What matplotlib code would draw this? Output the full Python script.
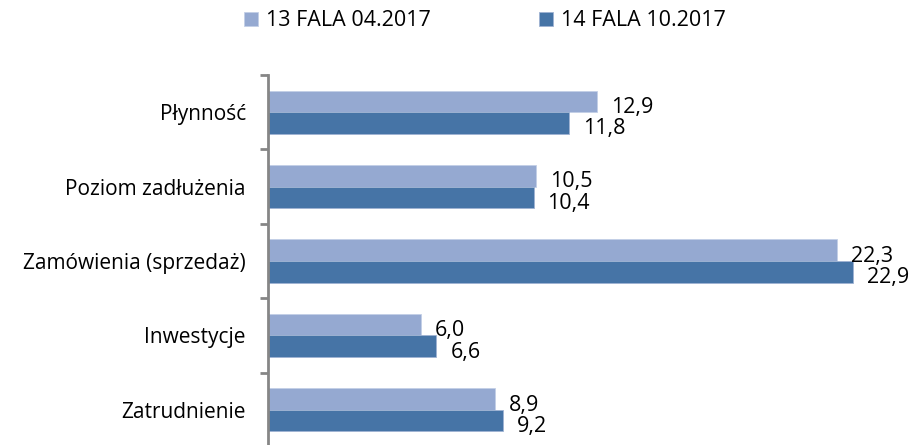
import numpy as np
import matplotlib.pyplot as plt
from matplotlib.ticker import FixedLocator

plt.rcParams['font.family'] = ['Open Sans', 'DejaVu Sans']

# data
categories = ['Płynność', 'Poziom zadłużenia', 'Zamówienia (sprzedaż)', 'Inwestycje', 'Zatrudnienie']
series_names = ['13 FALA 04.2017', '14 FALA 10.2017']
wave13 = [12.9, 10.5, 22.3, 6.0, 8.9]
wave14 = [11.8, 10.4, 22.9, 6.6, 9.2]

c_light = '#95a9d1'
c_dark = '#4674a6'
axis_grey = '#868686'

fig = plt.figure(figsize=(9.19, 4.45), dpi=100)
ax = fig.add_axes([268 / 919, -2 / 445, 1 - 268 / 919, (447 - 75) / 445])

y = np.arange(len(categories))
h = 0.29
b1 = ax.barh(y - h / 2, wave13, height=h, color=c_light, edgecolor='#c3cfe6', linewidth=0.6,
             label=series_names[0])
b2 = ax.barh(y + h / 2, wave14, height=h, color=c_dark, edgecolor='#9fb3d3', linewidth=0.6,
             label=series_names[1])

# value labels, Polish decimal comma
for bars, vals in ((b1, wave13), (b2, wave14)):
    for bar, v in zip(bars, vals):
        ax.annotate(f'{v:.1f}'.replace('.', ','),
                    (bar.get_width(), bar.get_y() + bar.get_height() / 2),
                    xytext=(14, -6), textcoords='offset pixels',
                    ha='left', va='center', fontsize=15.5, color='black', annotation_clip=False)

ax.set_xlim(0, 25.5)
ax.set_ylim(len(categories) - 0.5, -0.5)
ax.set_xticks([])
ax.set_yticks(y)
ax.set_yticklabels(categories, fontsize=15)
ax.yaxis.set_minor_locator(FixedLocator(np.arange(-0.5, len(categories), 1.0)))
ax.tick_params(axis='y', which='major', length=0, pad=16)
ax.tick_params(axis='y', which='minor', length=6, width=2, color=axis_grey, direction='out')

for s in ('top', 'right', 'bottom'):
    ax.spines[s].set_visible(False)
ax.spines['left'].set_color(axis_grey)
ax.spines['left'].set_linewidth(2)
ax.patch.set_alpha(0)

fig.legend(handles=[b1, b2], loc='center', bbox_to_anchor=(485 / 919, 1 - 21 / 445), ncol=2,
           frameon=False, fontsize=15.5, handlelength=0.65, handleheight=0.65, handletextpad=0.4,
           columnspacing=5.0)

fig.savefig('out.png', dpi=100)
